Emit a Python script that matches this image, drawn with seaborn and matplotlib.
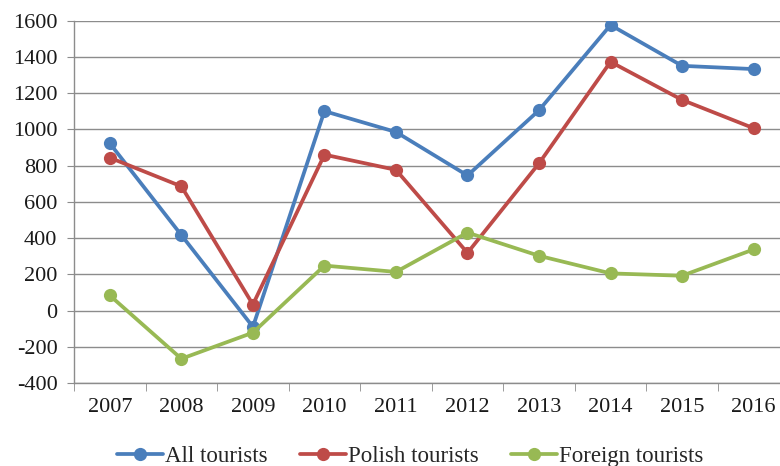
import pandas as pd
import matplotlib
matplotlib.use('Agg')
import matplotlib.pyplot as plt
import seaborn as sns

years = [2007, 2008, 2009, 2010, 2011, 2012, 2013, 2014, 2015, 2016]
all_tourists = [922, 416, -90, 1100, 985, 745, 1105, 1575, 1350, 1332]
polish_tourists = [843, 685, 33, 860, 776, 318, 812, 1372, 1162, 1006]
foreign_tourists = [83, -266, -122, 248, 213, 430, 302, 205, 192, 337]
series_names = ['All tourists', 'Polish tourists', 'Foreign tourists']
colors = ['#4A7EBB', '#BE4B48', '#98B954']

df = pd.DataFrame({
    'year': years * 3,
    'value': all_tourists + polish_tourists + foreign_tourists,
    'series': [s for s in series_names for _ in years],
})

sns.set_style('white')
plt.rcParams['font.family'] = ['Liberation Serif', 'DejaVu Serif']
plt.rcParams['axes.unicode_minus'] = False

fig = plt.figure(figsize=(7.8, 4.66), dpi=100)
ax = fig.add_axes([0.095, 0.178, 0.917, 0.778])

sns.lineplot(data=df, x='year', y='value', hue='series', hue_order=series_names,
             palette=colors, marker='o', markersize=9.5, markeredgewidth=0,
             linewidth=2.7, ax=ax)

ax.set_ylim(-400, 1600)
ax.set_yticks(range(-400, 1601, 200))
ax.set_xlim(2006.5, 2016.5)
ax.set_xticks(years)
ax.set_xticks([y + 0.5 for y in [2006] + years], minor=True)
ax.set_xlabel('')
ax.set_ylabel('')

ax.grid(axis='y', color='#8C8C8C', linewidth=1)
ax.set_axisbelow(True)
for side in ['top', 'right']:
    ax.spines[side].set_visible(False)
for side in ['left', 'bottom']:
    ax.spines[side].set_color('#8C8C8C')
    ax.spines[side].set_linewidth(1)

ax.tick_params(axis='y', which='major', left=True, length=5, color='#8C8C8C',
               labelsize=16, pad=7, labelcolor='#1a1a1a')
ax.tick_params(axis='x', which='major', bottom=False, length=0, labelsize=16,
               pad=11, labelcolor='#1a1a1a')
ax.tick_params(axis='x', which='minor', bottom=True, length=6, color='#8C8C8C',
               direction='out')

handles, labels = ax.get_legend_handles_labels()
ax.legend_.remove()
fig.legend(handles, labels, loc='center', bbox_to_anchor=(0.526, 0.02),
           ncol=3, frameon=False, fontsize=16.5, handlelength=2.0,
           handletextpad=0.1, columnspacing=1.4)

fig.savefig('out.png', dpi=100)
